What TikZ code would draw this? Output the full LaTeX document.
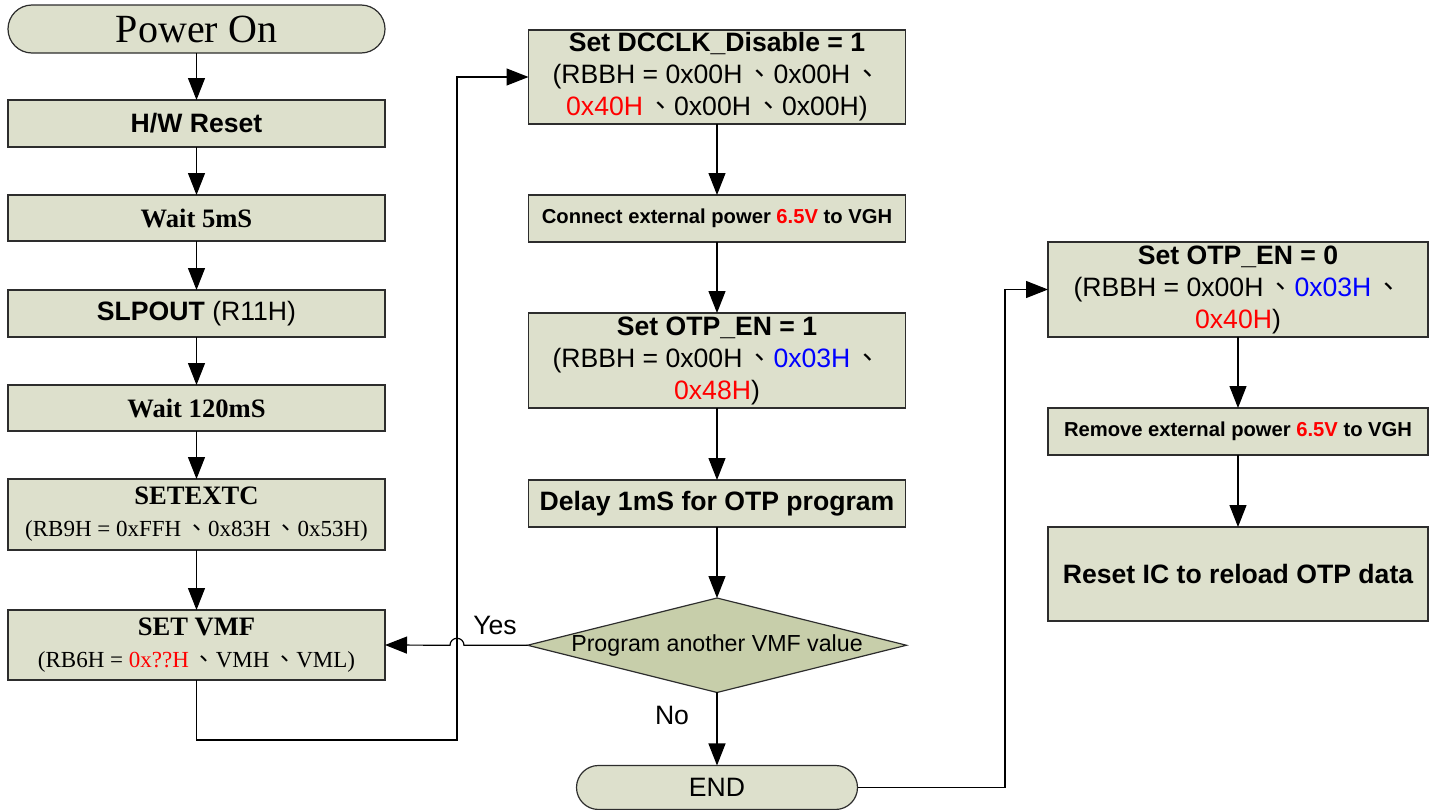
\documentclass[tikz,border=0pt]{standalone}
\usepackage{fontspec}
\setmainfont{Liberation Serif}
\setsansfont{Liberation Sans}
\newfontfamily\cjk{Noto Sans CJK TC}
\usetikzlibrary{arrows.meta, positioning, shapes.geometric}

\definecolor{boxfill}{RGB}{221,224,204}
\definecolor{decfill}{RGB}{199,206,170}
\definecolor{edgegray}{RGB}{45,45,45}
\newcommand{\dun}{\,{\cjk 、}}
\newcommand{\fbig}{\fontsize{13.3}{16}\selectfont}
\newcommand{\fsmall}{\fontsize{10.1}{12}\selectfont}
\newcommand{\fmid}{\fontsize{11.6}{14}\selectfont}
\newcommand{\ftimes}{\fontsize{11.5}{14}\selectfont}

\begin{document}
\begin{tikzpicture}[
    >={Triangle[length=11pt,width=8.5pt]}, line width=0.6pt,
    box/.style={draw=edgegray, fill=boxfill, minimum width=188.5pt,
                inner sep=0pt, outer sep=0pt, align=center,
                font=\fbig\sffamily},
    term/.style={box, rounded corners=12pt},
    dec/.style={diamond, draw=edgegray, fill=decfill, shape aspect=4,
                inner sep=0pt, outer sep=0pt, minimum width=189.5pt,
                minimum height=47pt, font=\fmid\sffamily},
    lbl/.style={font=\fbig\sffamily}
  ]
  \useasboundingbox (0,0) rectangle (717.5pt,-404.5pt);

  % left column
  \node[term, minimum height=24pt, font=\fontsize{20}{24}\selectfont\rmfamily]
    (pwr) at (98.25pt,-14.5pt) {Power On};
  \node[box, minimum height=23.5pt, font=\fbig\sffamily\bfseries,
        below=23.5pt of pwr] (hw) {H/W Reset};
  \node[box, minimum height=23pt, font=\fbig\rmfamily\bfseries,
        below=24pt of hw] (wait5) {Wait 5mS};
  \node[box, minimum height=23.5pt, below=24.5pt of wait5] (slp)
    {\textbf{SLPOUT} (R11H)};
  \node[box, minimum height=23pt, font=\fbig\rmfamily\bfseries,
        below=24pt of slp] (wait120) {Wait 120mS};
  \node[box, minimum height=35.5pt, font=\fbig\rmfamily\bfseries,
        below=24pt of wait120] (setextc)
    {SETEXTC\\{\ftimes\mdseries (RB9H = 0xFFH\dun0x83H\dun0x53H)}};
  \node[box, minimum height=35pt, font=\fbig\rmfamily\bfseries,
        below=30pt of setextc] (vmf)
    {SET VMF\\{\ftimes\mdseries (RB6H = \textcolor{red}{0x??H}\dun VMH\dun VML)}};

  % middle column
  \node[box, minimum height=47pt] (dcclk) at (358.5pt,-38.5pt)
    {\textbf{Set DCCLK\_Disable = 1}\\(RBBH = 0x00H\dun0x00H\dun\\
     \textcolor{red}{0x40H}\dun0x00H\dun0x00H)};
  \node[box, minimum height=23.5pt, font=\fsmall\sffamily\bfseries,
        below=35.5pt of dcclk] (conn)
    {Connect external power \textcolor{red}{6.5V} to VGH};
  \node[box, minimum height=47.5pt, below=35.5pt of conn] (otp1)
    {\textbf{Set OTP\_EN = 1}\\(RBBH = 0x00H\dun\textcolor{blue}{0x03H}\dun\\
     \textcolor{red}{0x48H})};
  \node[box, minimum height=23.5pt, font=\fbig\sffamily\bfseries,
        below=36pt of otp1] (delay) {Delay 1mS for OTP program};
  \node[dec, below=35.5pt of delay] (prog) {Program another VMF value};
  \node[term, minimum width=140.5pt, minimum height=22pt, rounded corners=11pt,
        below=36.5pt of prog] (endn) {END};

  % right column
  \node[box, minimum width=190pt, minimum height=47.5pt] (otp0) at (619pt,-144.75pt)
    {\textbf{Set OTP\_EN = 0}\\(RBBH = 0x00H\dun\textcolor{blue}{0x03H}\dun\\
     \textcolor{red}{0x40H})};
  \node[box, minimum width=190pt, minimum height=23.5pt,
        font=\fsmall\sffamily\bfseries, below=35.5pt of otp0] (rem)
    {Remove external power \textcolor{red}{6.5V} to VGH};
  \node[box, minimum width=190pt, minimum height=47pt,
        font=\fbig\sffamily\bfseries, below=36pt of rem] (rst)
    {Reset IC to reload OTP data};

  \node[lbl] (yes) at (247.5pt,-312.5pt) {Yes};
  \node[lbl] (no) at (336pt,-357.5pt) {No};

  \draw[->] (pwr) -- (hw);
  \draw[->] (hw) -- (wait5);
  \draw[->] (wait5) -- (slp);
  \draw[->] (slp) -- (wait120);
  \draw[->] (wait120) -- (setextc);
  \draw[->] (setextc) -- (vmf);
  \draw[->] (dcclk) -- (conn);
  \draw[->] (conn) -- (otp1);
  \draw[->] (otp1) -- (delay);
  \draw[->] (delay) -- (prog);
  \draw[->] (prog) -- (endn);
  \draw[->] (otp0) -- (rem);
  \draw[->] (rem) -- (rst);

  % loop back and the jump over it
  \coordinate (loopb) at (228.5pt,-370pt);
  \coordinate (hop) at (loopb |- prog.west);
  \draw[->] (vmf.south) |- (loopb) |- (dcclk.west);
  \draw[->] (prog.west) -- ([xshift=3.5pt]hop)
    arc[start angle=0, end angle=180, radius=3.5pt] -- (vmf.east);
  \draw[->] (endn.east) -| ([xshift=-21.5pt]otp0.west) -- (otp0.west);
\end{tikzpicture}
\end{document}
